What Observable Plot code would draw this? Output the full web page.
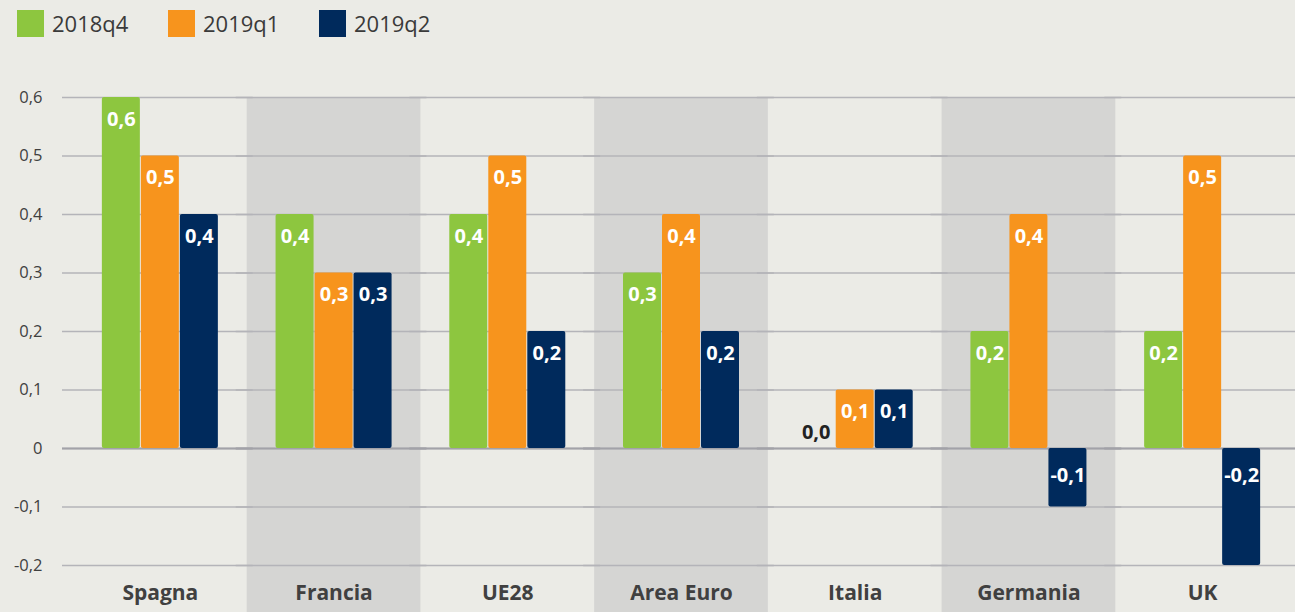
<!DOCTYPE html>
<html>
<head>
<meta charset="utf-8">
<script src="https://cdn.jsdelivr.net/npm/d3@7"></script>
<script src="https://cdn.jsdelivr.net/npm/@observablehq/plot@0.6"></script>
<style>
  html, body { margin: 0; padding: 0; background: #ebebe6; }
  body { width: 1295px; height: 612px; overflow: hidden; font-family: "Open Sans", sans-serif; }
  #legend { height: 50px; position: relative; }
  .item { position: absolute; top: 10px; display: flex; align-items: center; }
  .sw { width: 27px; height: 27px; margin-right: 8px; }
  .lab { font-size: 22px; font-weight: 500; color: #3a3a3a; line-height: 27px; }
  svg g[aria-label^="y-axis"] text { font-size: 16.5px; fill: #404040; }
</style>
</head>
<body>
<div id="legend"></div>
<div id="chart"></div>
<script>
const countries = ["Spagna", "Francia", "UE28", "Area Euro", "Italia", "Germania", "UK"];
const series = ["2018q4", "2019q1", "2019q2"];
const v2018q4 = [0.6, 0.4, 0.4, 0.3, 0.0, 0.2, 0.2];
const v2019q1 = [0.5, 0.3, 0.5, 0.4, 0.1, 0.4, 0.5];
const v2019q2 = [0.4, 0.3, 0.2, 0.2, 0.1, -0.1, -0.2];
const shaded = ["Francia", "Area Euro", "Germania"];
const yTicks = [-0.2, -0.1, 0, 0.1, 0.2, 0.3, 0.4, 0.5, 0.6];
const colors = ["#8dc63f", "#f7941d", "#002a5c"];

const valuesBySeries = [v2018q4, v2019q1, v2019q2];
const data = [];
countries.forEach((c, i) => series.forEach((s, j) => data.push({country: c, series: s, value: valuesBySeries[j][i]})));

const fmt = v => v.toFixed(1).replace(".", ",");
const tickFmt = v => v === 0 ? "0" : v.toFixed(1).replace(".", ",");

// legend
const legend = document.getElementById("legend");
const legendX = [17, 168, 319];
series.forEach((s, i) => {
  const it = document.createElement("div");
  it.className = "item";
  it.style.left = legendX[i] + "px";
  it.innerHTML = `<div class="sw" style="background:${colors[i]}"></div><span class="lab">${s}</span>`;
  legend.appendChild(it);
});

const yMin = d3.min(yTicks), yMax = d3.max(yTicks);
const labelStyle = {fx: "country", x: "series", text: d => fmt(d.value), fontSize: 20, fontWeight: "bold"};

const chart = Plot.plot({
  width: 1295,
  height: 562,
  marginTop: 47,
  marginBottom: 47,
  marginLeft: 73,
  marginRight: 6,
  style: {background: "transparent", fontFamily: "'Open Sans', sans-serif", overflow: "visible"},
  fx: {domain: countries, padding: 0, round: false, axis: null},
  x: {domain: series, paddingInner: 0, paddingOuter: 0.727, round: false, axis: null},
  y: {domain: [yMin, yMax], ticks: yTicks, tickFormat: tickFmt, tickSize: 0, tickPadding: 31, label: null},
  color: {domain: series, range: colors},
  marks: [
    Plot.rect(shaded, {fx: d => d, y1: yMin, y2: yMax, insetBottom: -47, fill: "#d5d5d3"}),
    Plot.ruleY(yTicks, {stroke: "#b4b4b9", strokeWidth: 1.3, insetLeft: -11, insetRight: -6}),
    Plot.ruleY([0], {stroke: "#a2a2a8", strokeWidth: 2, insetLeft: -11, insetRight: -6}),
    Plot.barY(data, {fx: "country", x: "series", y: "value", fill: "series", rx: 2, insetLeft: 0.5, insetRight: 0.5}),
    Plot.text(data.filter(d => d.value > 0), {...labelStyle, y: "value", dy: 22, fill: "white"}),
    Plot.text(data.filter(d => d.value < 0), {...labelStyle, y: d => 0, dy: 27, fill: "white"}),
    Plot.text(data.filter(d => d.value === 0), {...labelStyle, y: "value", dy: -16, fill: "#222222"}),
    Plot.text(countries, {fx: d => d, y: d => yMin, text: d => d, dy: 28, fontSize: 21, fontWeight: "bold", fill: "#404040"})
  ]
});
document.getElementById("chart").appendChild(chart);
</script>
</body>
</html>
